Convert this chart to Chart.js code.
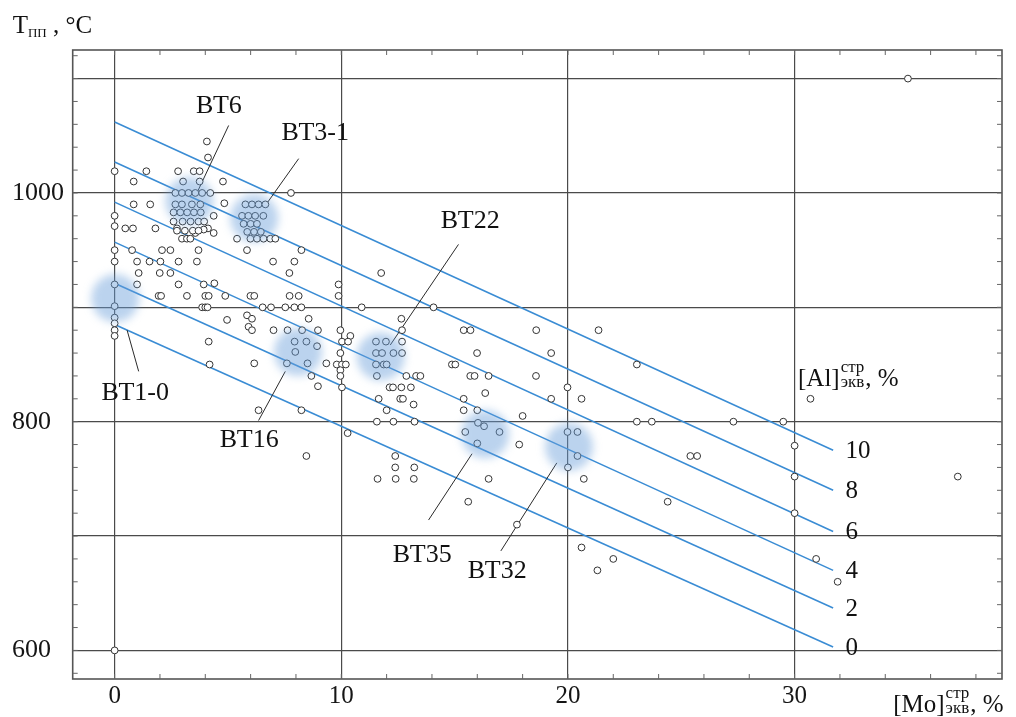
<!DOCTYPE html>
<html>
<head>
<meta charset="utf-8">
<script src="https://cdn.jsdelivr.net/npm/chart.js@4"></script>
<style>
html,body{margin:0;padding:0;background:#fff;overflow:hidden;}
#wrap{width:1016px;height:717px;position:relative;}
</style>
</head>
<body>
<div id="wrap"><canvas id="c"></canvas></div>
<script>
// ---------- DATA ----------
const xTicks = [0, 10, 20, 30];
const yTicks = [600, 700, 800, 900, 1000, 1100];
const yLabelled = [600, 800, 1000];

// [Mo]equiv (%), T_pp (°C)
const alloys = [
 [0,1019],[0,980],[0,971],[0,950],[0,940],[0,920],[0,901],[0,891],[0,886],[0,880],[0,875],[0,600],
 [0.47,969],[0.81,969],[0.77,950],[0.84,1010],[0.84,990],[1.4,1019],[1.57,990],[1.8,969],
 [0.99,940],[1.54,940],[2.02,940],[1.06,930],[0.99,920],[2.09,950],[2.46,950],[1.99,930],[2.46,930],
 [2.82,940],[2.82,920],[2.75,969],[1.94,910],[2.05,910],[3.19,910],[3.63,940],[3.7,950],[3.93,920],
 [4.4,921],[4.0,910],[4.15,910],[4.88,910],[3.86,900],[4.0,900],[4.1,900],[4.96,889],[4.15,870],[4.19,850],
 [4.07,1045],[4.12,1031],[2.8,1019],[3.49,1019],[3.75,1019],[3.02,1010],[3.75,1010],[4.78,1010],
 [4.22,1000],[7.78,1000],[4.84,991],[4.37,980],[4.12,969],[3.93,968],[4.37,965],[3.56,965],
 [2.68,1000],[2.97,1000],[3.26,1000],[3.56,1000],[3.86,1000],[2.68,990],[2.97,990],[3.41,990],[3.78,990],
 [2.6,983],[2.9,983],[3.2,983],[3.5,983],[3.8,983],[2.6,975],[3.0,975],[3.35,975],[3.7,975],[3.95,975],
 [2.75,967],[3.1,967],[3.45,967],[3.7,967],[2.97,960],[3.19,960],[3.34,960],
 [5.77,990],[6.06,990],[6.35,990],[6.65,990],[5.62,980],[5.9,980],[6.2,980],[6.56,980],
 [5.69,973],[6.0,973],[6.28,973],[5.85,966],[6.15,966],[6.45,966],
 [5.4,960],[5.99,960],[6.28,960],[6.57,960],[6.87,960],[7.09,960],
 [5.84,950],[8.24,950],[6.99,940],[7.93,940],[7.71,930],[5.99,910],[6.16,910],[7.72,910],[8.12,910],
 [6.53,900],[6.9,900],[7.53,900],[7.93,900],[8.24,900],[5.84,893],[6.06,890],[5.91,883],[6.06,880],
 [7.01,880],[7.63,880],[8.27,880],[8.97,880],[8.56,890],
 [7.94,870],[8.46,870],[8.93,866],[7.97,861],[7.6,851],[8.51,851],[6.16,851],[9.34,851],[8.68,840],
 [8.97,831],[6.35,810],[8.24,810],[8.46,770],
 [9.88,920],[9.88,910],[10.9,900],[9.96,880],[10.4,875],[10.03,870],[10.3,870],[9.96,860],[9.8,850],
 [10.03,850],[10.2,850],[9.96,845],[9.96,840],[10.03,830],[10.28,790],
 [11.76,930],[12.65,890],[12.68,880],[11.53,870],[11.97,870],[12.68,870],[11.53,860],[11.8,860],
 [12.3,860],[12.68,860],[11.53,850],[11.87,850],[12.0,850],[11.57,840],[14.07,900],
 [12.87,840],[13.3,840],[13.49,840],[12.13,830],[12.28,830],[12.65,830],[13.07,830],[11.65,820],
 [12.6,820],[12.72,820],[13.19,815],[12.0,810],[11.57,800],[12.3,800],[13.23,800],[12.38,770],
 [12.38,760],[13.22,760],[11.6,750],[12.4,750],[13.2,750],
 [15.4,880],[15.7,880],[18.6,880],[21.35,880],[15.99,860],[19.26,860],[14.88,850],[15.03,850],[23.04,850],
 [15.69,840],[15.88,840],[16.5,840],[18.59,840],[19.98,830],[16.35,825],[15.4,820],[19.26,820],[20.6,820],
 [15.4,810],[16,810],[18,805],[23.04,800],[23.7,800],[27.3,800],[29.5,800],[30.7,820],[30,779],
 [25.4,770],[25.7,770],[30,752],[37.2,752],[24.4,730],[30,720],[30.95,680],[31.9,660],[35,1100],
 [16.03,799],[16.3,796],[15.47,791],[16.98,791],[16,781],[17.85,780],[16.5,750],[15.6,730],[17.75,710],
 [19.98,791],[20.42,791],[20.42,770],[20,760],[20.7,750],[20.6,690],[22,680],[21.3,670]
];

// [Al]equiv iso-lines
const alLevels = [0, 2, 4, 6, 8, 10];
const alStartT = [885, 921, 957, 992, 1027, 1062];
const alEndT = [603, 637, 670, 704, 740, 775];
const alStartMo = 0;
const alEndMo = 31.7;

// Alloy groups (highlight circles)
const groupNames = ['ВТ6', 'ВТ3-1', 'ВТ1-0', 'ВТ16', 'ВТ22', 'ВТ35', 'ВТ32'];
const groupMo = [3.3, 6.16, 0.03, 8.09, 11.74, 16.35, 20.05];
const groupT = [993, 978, 908, 861, 857, 789, 778];

// annotation text anchors and leader lines (data units)
const labelMo = [4.6, 8.85, 0.91, 5.94, 15.69, 13.57, 16.88];
const labelT = [1076, 1052, 825, 784, 975, 683, 669];
const leaderFromMo = [5.03, 8.12, 1.06, 6.35, 15.17, 13.85, 17.04];
const leaderFromT = [1059, 1030, 844, 801, 955, 714, 687];
const leaderToMo = [3.63, 6.72, 0.55, 7.53, 12.16, 15.77, 19.51];
const leaderToT = [1000, 991, 880, 844, 867, 772, 764];

// ---------- CHART ----------
const SERIF = '"Liberation Serif", "DejaVu Serif", serif';
const BLUE = 'rgb(58,140,212)';

const datasets = [];
datasets.push({
  type: 'scatter', label: 'groups',
  data: groupMo.map((x, i) => ({x, y: groupT[i]})),
  pointRadius: 24, pointHoverRadius: 24,
  backgroundColor: 'rgba(105,158,218,0.45)', borderWidth: 0, order: 0, isGroup: true
});
datasets.push({
  type: 'scatter', label: 'alloys',
  data: alloys.map(p => ({x: p[0], y: p[1]})),
  pointRadius: 3.4, pointHoverRadius: 3.4,
  backgroundColor: '#ffffff', borderColor: '#333', borderWidth: 1, order: 1
});
groupNames.forEach((n, i) => {
  datasets.push({
    type: 'line', label: 'leader ' + n,
    data: [{x: leaderFromMo[i], y: leaderFromT[i]}, {x: leaderToMo[i], y: leaderToT[i]}],
    borderColor: '#2a2a2a', borderWidth: 1, pointRadius: 0, order: 2
  });
});
alLevels.forEach((a, i) => {
  datasets.push({
    type: 'line', label: 'Al ' + a,
    data: [{x: alStartMo, y: alStartT[i]}, {x: alEndMo, y: alEndT[i]}],
    borderColor: BLUE, borderWidth: 1.6, pointRadius: 0, order: 3
  });
});

function drawRich(ctx, px, py, parts) {
  let x = px;
  parts.forEach(p => {
    ctx.font = p.size + 'px ' + SERIF;
    if (p.sup !== undefined) {
      const w1 = ctx.measureText(p.sup).width;
      const w2 = ctx.measureText(p.sub).width;
      ctx.fillText(p.sup, x + 1, py + p.supDy);
      ctx.fillText(p.sub, x + 1, py + p.subDy);
      x += Math.max(w1, w2) + 2;
    } else {
      ctx.fillText(p.t, x, py + (p.dy || 0));
      x += ctx.measureText(p.t).width;
    }
  });
}

const decor = {
  id: 'decor',
  beforeDatasetDraw(chart, args) {
    const ds = chart.data.datasets[args.index];
    if (ds.isGroup) { chart.ctx.save(); chart.ctx.filter = 'blur(4px)'; }
  },
  afterDatasetDraw(chart, args) {
    const ds = chart.data.datasets[args.index];
    if (ds.isGroup) { chart.ctx.restore(); }
  },
  afterDraw(chart) {
    const {ctx, chartArea: ca, scales: {x, y}} = chart;
    ctx.save();
    ctx.strokeStyle = '#555';
    ctx.lineWidth = 1.6;
    ctx.strokeRect(ca.left, ca.top, ca.right - ca.left, ca.bottom - ca.top);
    ctx.lineWidth = 1;
    ctx.strokeStyle = '#666';
    ctx.beginPath();
    for (let v = 0; v <= 38; v += 2) {
      const px = x.getPixelForValue(v);
      ctx.moveTo(px, ca.bottom); ctx.lineTo(px, ca.bottom - 5);
      ctx.moveTo(px, ca.top); ctx.lineTo(px, ca.top + 5);
    }
    for (let v = 580; v <= 1120; v += 20) {
      const py = y.getPixelForValue(v);
      ctx.moveTo(ca.left, py); ctx.lineTo(ca.left + 5, py);
      ctx.moveTo(ca.right, py); ctx.lineTo(ca.right - 5, py);
    }
    ctx.stroke();

    ctx.fillStyle = '#111';
    ctx.textBaseline = 'middle';
    ctx.textAlign = 'center';
    ctx.font = '26px ' + SERIF;
    groupNames.forEach((n, i) => {
      ctx.fillText(n, x.getPixelForValue(labelMo[i]), y.getPixelForValue(labelT[i]));
    });
    ctx.textAlign = 'left';
    ctx.font = '25px ' + SERIF;
    alLevels.forEach((a, i) => {
      ctx.fillText(String(a), x.getPixelForValue(alEndMo + 0.55), y.getPixelForValue(alEndT[i] - 1));
    });
    ctx.textBaseline = 'alphabetic';
    drawRich(ctx, x.getPixelForValue(30.15), y.getPixelForValue(831.5), [
      {t: '[Al]', size: 25},
      {sup: 'стр', sub: 'экв', size: 17, supDy: -14, subDy: 1},
      {t: ', %', size: 25}
    ]);
    drawRich(ctx, x.getPixelForValue(34.35), y.getPixelForValue(546), [
      {t: '[Mo]', size: 25},
      {sup: 'стр', sub: 'экв', size: 17, supDy: -14, subDy: 1},
      {t: ', %', size: 25}
    ]);
    drawRich(ctx, x.getPixelForValue(-4.5), y.getPixelForValue(1140), [
      {t: 'T', size: 25},
      {t: 'ПП', size: 13, dy: 4},
      {t: ' , °C', size: 25}
    ]);
    ctx.restore();
  }
};

new Chart(document.getElementById('c'), {
  data: {datasets},
  options: {
    responsive: true, maintainAspectRatio: false, animation: false,
    layout: {autoPadding: false, padding: {left: 12, top: 50, right: 14, bottom: 0}},
    plugins: {legend: {display: false}, tooltip: {enabled: false}},
    events: [],
    scales: {
      x: {
        type: 'linear', min: -1.85, max: 39.15,
        afterBuildTicks: s => { s.ticks = xTicks.map(v => ({value: v})); },
        afterFit: s => { s.height = 38; s.paddingLeft = 0; s.paddingRight = 0; },
        grid: {color: '#4a4a4a', lineWidth: 1.2, drawTicks: false},
        border: {display: false},
        ticks: {font: {family: SERIF, size: 25}, color: '#151515', padding: 2, maxRotation: 0}
      },
      y: {
        type: 'linear', min: 575, max: 1125,
        afterBuildTicks: s => { s.ticks = yTicks.map(v => ({value: v})); },
        afterFit: s => { s.width = 60.7; s.paddingTop = 0; s.paddingBottom = 0; },
        grid: {color: '#4a4a4a', lineWidth: 1.2, drawTicks: false},
        border: {display: false},
        ticks: {
          font: {family: SERIF, size: 26}, color: '#151515', crossAlign: 'far', padding: 6,
          callback: v => yLabelled.includes(v) ? String(v) : ''
        }
      }
    }
  },
  plugins: [decor]
});
</script>
</body>
</html>
